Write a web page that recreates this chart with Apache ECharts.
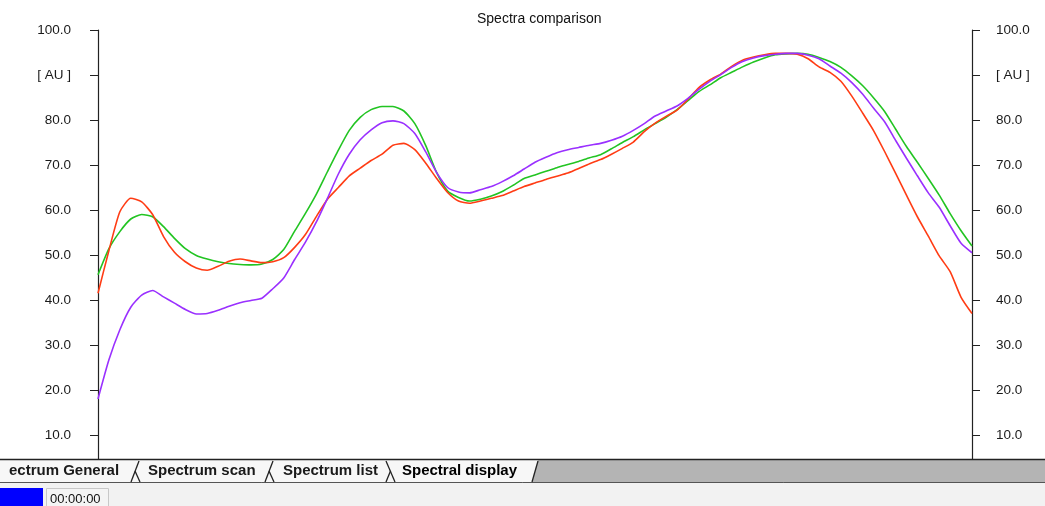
<!DOCTYPE html>
<html>
<head>
<meta charset="utf-8">
<title>Spectra comparison</title>
<script src="https://cdn.jsdelivr.net/npm/echarts@6/dist/echarts.min.js"></script>
<style>
    html, body { margin: 0; padding: 0; background: #fff; }
    #chart { width: 1045px; height: 506px; }
</style>
</head>
<body>
<div id="chart"></div>
<script>
// scan positions (no scale shown on the top axis)
var positions = [0, 5, 10, 15, 20, 25, 30, 35, 40, 45,
    50, 55, 60, 65, 70, 75, 80, 85, 90, 95,
    100, 105, 110, 115, 120, 125, 130, 135, 140, 145,
    150, 155, 160, 165, 170, 175, 180, 185, 190, 195,
    200, 205, 210, 215, 220, 225, 230, 235, 240, 245,
    250, 255, 260, 265, 270, 275, 280, 285, 290, 295,
    300, 305, 310, 315, 320, 325, 330, 335, 340, 345,
    350, 355, 360, 365, 370, 375, 380, 385, 390, 395, 400];

// AU values
var redSpectrum = [41.5, 51.0, 59.6, 62.6, 61.8, 59.0, 54.1, 50.6, 48.5, 47.1,
    46.6, 47.5, 48.6, 49.1, 48.7, 48.3, 48.5, 49.4, 51.7, 54.6,
    58.6, 62.4, 65.0, 67.6, 69.3, 71.0, 72.4, 74.4, 74.8, 73.4,
    70.4, 67.0, 63.9, 62.0, 61.5, 62.0, 62.6, 63.2, 64.2, 65.2,
    66.0, 66.8, 67.5, 68.2, 69.2, 70.3, 71.2, 72.4, 73.7, 75.1,
    77.4, 79.3, 80.8, 82.2, 84.6, 87.2, 88.9, 90.2, 91.9, 93.3,
    94.0, 94.5, 94.8, 94.8, 94.6, 93.6, 91.8, 90.6, 88.6, 85.3,
    81.5, 77.6, 73.0, 68.2, 63.3, 58.5, 54.2, 49.8, 46.3, 40.6, 37.0];

var greenSpectrum = [45.6, 51.4, 55.2, 58.0, 59.0, 58.5, 56.3, 53.7, 51.4, 49.9,
    49.1, 48.5, 48.1, 47.9, 47.8, 48.0, 49.0, 51.2, 55.3, 59.3,
    63.6, 68.5, 73.3, 77.7, 80.6, 82.3, 83.0, 83.0, 82.0, 79.2,
    74.3, 68.3, 64.2, 62.8, 62.0, 62.4, 63.1, 64.1, 65.5, 67.0,
    67.8, 68.6, 69.4, 70.1, 70.8, 71.6, 72.3, 73.6, 75.0, 76.3,
    77.8, 79.2, 80.6, 82.3, 84.3, 86.3, 87.8, 89.4, 90.6, 91.8,
    92.9, 93.8, 94.5, 94.7, 94.8, 94.6, 93.9, 93.0, 91.7, 89.8,
    87.6, 84.9, 81.9, 78.0, 74.1, 70.6, 67.0, 63.3, 59.2, 55.4, 52.0];

var purpleSpectrum = [18.0, 26.7, 33.4, 38.4, 41.1, 42.1, 40.7, 39.3, 37.9, 36.9,
    37.0, 37.7, 38.6, 39.4, 39.9, 40.4, 42.5, 44.9, 49.0, 52.9,
    57.4, 62.6, 68.0, 72.4, 75.6, 77.8, 79.4, 79.8, 79.2, 77.0,
    72.9, 68.3, 65.0, 64.0, 63.8, 64.5, 65.2, 66.3, 67.6, 69.1,
    70.6, 71.7, 72.7, 73.4, 73.9, 74.4, 74.8, 75.5, 76.4, 77.7,
    79.2, 80.9, 82.0, 83.1, 84.8, 86.8, 88.6, 90.1, 91.7, 93.0,
    93.8, 94.3, 94.6, 94.8, 94.8, 94.4, 93.6, 92.0, 90.4, 88.3,
    85.7, 82.6, 79.6, 75.5, 71.5, 67.6, 63.8, 60.6, 56.5, 52.6, 50.5];

// tabs along the bottom of the window
var tabNames = ['ectrum General', 'Spectrum scan', 'Spectrum list', 'Spectral display'];
var statusTime = '00:00:00';

(function () {

    'use strict';

    var font = 'Arial, "Liberation Sans", sans-serif',
        myChart = echarts.init(document.getElementById('chart'));

    function pairs(values) {
        return positions.map(function (x, i) {
            return [x, values[i]];
        });
    }

    // 90 is shown as the unit label
    function auLabel(value) {
        return value === 90 ? '[ AU ]' : value.toFixed(1);
    }

    function yAxisFor(side, margin) {
        return {
            type: 'value',
            position: side,
            min: 0,
            max: 100,
            interval: 10,
            axisLine: { show: true, lineStyle: { color: '#222', width: 1.2 } },
            axisTick: { show: true, length: 8, lineStyle: { color: '#222' } },
            splitLine: { show: false },
            axisLabel: {
                formatter: auLabel,
                margin: margin,
                color: '#1a1a1a',
                fontSize: 13.5,
                fontFamily: font
            }
        };
    }

    function line(name, values, color) {
        return {
            name: name,
            type: 'line',
            data: pairs(values),
            showSymbol: false,
            smooth: 0.2,
            lineStyle: { color: color, width: 1.6 },
            itemStyle: { color: color }
        };
    }

    function seg(x1, y1, x2, y2, color, width) {
        return {
            type: 'line',
            z: 101,
            shape: { x1: x1, y1: y1, x2: x2, y2: y2 },
            style: { stroke: color, lineWidth: width }
        };
    }

    function tabText(text, x, color) {
        return {
            type: 'text',
            z: 102,
            x: x,
            y: 471,
            style: {
                text: text,
                fill: color,
                font: 'bold 15px ' + font,
                verticalAlign: 'middle'
            }
        };
    }

    // window chrome under the plot: tab row and status bar
    var chrome = [
        { type: 'rect', z: 100, shape: { x: 0, y: 459, width: 1045, height: 47 }, style: { fill: '#f2f2f2' } },
        { type: 'rect', z: 100, shape: { x: 0, y: 459, width: 1045, height: 24 }, style: { fill: '#b4b4b4' } },
        { type: 'polygon', z: 100, shape: { points: [[0, 460], [538, 460], [532, 482], [0, 482]] }, style: { fill: '#f7f7f7' } },
        seg(0, 459.5, 1045, 459.5, '#222', 1.5),
        seg(0, 482.5, 1045, 482.5, '#555', 1),
        seg(131, 482, 139, 461, '#222', 1.3),
        seg(135, 471, 140, 482, '#222', 1.3),
        seg(265, 482, 273, 461, '#222', 1.3),
        seg(269, 471, 274, 482, '#222', 1.3),
        seg(386, 461, 395, 482, '#222', 1.3),
        seg(390.5, 471, 386, 482, '#222', 1.3),
        seg(532, 482, 538, 461, '#222', 1.3),
        tabText(tabNames[0], 9, '#1a1a1a'),
        tabText(tabNames[1], 148, '#1a1a1a'),
        tabText(tabNames[2], 283, '#1a1a1a'),
        tabText(tabNames[3], 402, '#000'),
        { type: 'rect', z: 100, shape: { x: 0, y: 488, width: 43, height: 18 }, style: { fill: '#0000ff' } },
        { type: 'rect', z: 100, shape: { x: 46.5, y: 488.5, width: 62, height: 18 }, style: { fill: '#f4f4f4', stroke: '#c8c8c8', lineWidth: 1 } },
        {
            type: 'text', z: 102, x: 50, y: 499,
            style: { text: statusTime, fill: '#111', font: '13px ' + font, verticalAlign: 'middle' }
        }
    ];

    var option = {
        backgroundColor: '#fff',
        animation: false,
        title: {
            text: 'Spectra comparison',
            left: 477,
            top: 12,
            padding: 0,
            textStyle: { color: '#111', fontSize: 14, fontWeight: 'normal', fontFamily: font }
        },
        grid: { left: 98, right: 73, top: 30, height: 450 },
        xAxis: {
            type: 'value',
            position: 'top',
            min: 0,
            max: 400,
            interval: 100,
            axisLine: { show: true, lineStyle: { color: '#222', width: 1.2 } },
            axisTick: { show: true, length: 4, lineStyle: { color: '#222' } },
            axisLabel: { show: false },
            splitLine: { show: false }
        },
        yAxis: [yAxisFor('left', 27), yAxisFor('right', 24)],
        series: [
            line('green', greenSpectrum, '#22c422'),
            line('red', redSpectrum, '#ff3c14'),
            line('purple', purpleSpectrum, '#9a30ff')
        ],
        graphic: { elements: chrome }
    };

    myChart.setOption(option);
})();
</script>
</body>
</html>
